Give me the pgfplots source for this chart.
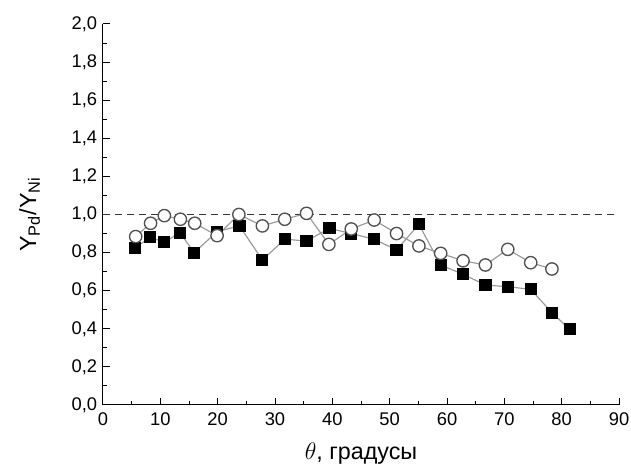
\documentclass[border=0pt]{standalone}
\usepackage{pgfplots}
\pgfplotsset{compat=1.18}
\usepackage{fontspec}
\setmainfont{Liberation Sans}
\definecolor{lngray}{HTML}{9A9A9A}
\definecolor{edgegray}{HTML}{505050}
\definecolor{dashgray}{HTML}{383838}
\begin{document}
\begin{tikzpicture}
\begin{axis}[
  scale only axis,
  width=309.6pt, height=228.6pt,
  xmin=0, xmax=90, ymin=0, ymax=2,
  axis x line=bottom, axis y line=left,
  axis line style={-, black, line width=0.6pt},
  tick align=inside,
  xtick={0,10,...,90}, minor x tick num=1,
  ytick={0,0.2,...,2.01}, minor y tick num=1,
  major tick length=4pt, minor tick length=2.2pt,
  tick style={black, line width=0.6pt},
  /pgf/number format/assume math mode=true,
  ticklabel style={font=\fontsize{11}{13}\selectfont},
  yticklabel style={/pgf/number format/.cd, fixed, fixed zerofill, precision=1, use comma},
  xticklabel style={yshift=-1pt, inner xsep=0.8pt},
  xlabel={$\theta$, градусы},
  ylabel={Y\textsubscript{Pd}/Y\textsubscript{Ni}},
  every axis x label/.style={at={([yshift=-29pt]rel axis cs:0.5,0)}, anchor=center, font=\fontsize{14}{16}\selectfont},
  every axis y label/.style={at={([xshift=-44pt]rel axis cs:0,0.5)}, anchor=center, rotate=90, font=\fontsize{14}{16}\selectfont},
  clip=false,
]
\path (rel axis cs:0,0) ++(-61.8pt,-39pt) coordinate (bbA);
\path (rel axis cs:1,1) ++(7.2pt,14.4pt) coordinate (bbB);
\path (bbA) rectangle (bbB);
\addplot[dashgray, line width=1.1pt, dash pattern=on 4.2pt off 3pt] coordinates {(0,1) (90,1)};
\addplot[lngray, line width=0.7pt, mark=square*, mark size=3.3pt,
  mark options={fill=black, draw=black, solid}] coordinates {
 (5.6,0.826) (8.25,0.880) (10.7,0.854) (13.4,0.905) (15.9,0.800)
 (19.9,0.910) (23.8,0.940) (27.8,0.761) (31.7,0.870) (35.5,0.861)
 (39.5,0.927) (43.3,0.900) (47.3,0.870) (51.2,0.814) (55.1,0.948)
 (58.9,0.735) (62.8,0.686) (66.7,0.630) (70.6,0.621) (74.6,0.607)
 (78.3,0.485) (81.4,0.397)
};
\addplot[lngray, line width=0.7pt, mark=*, mark size=3.7pt,
  mark options={fill=white, draw=edgegray, line width=0.8pt, solid}] coordinates {
 (5.7,0.884) (8.3,0.954) (10.7,0.994) (13.5,0.975) (16.0,0.954)
 (19.9,0.889) (23.7,1.000) (27.8,0.940) (31.7,0.975) (35.5,1.006)
 (39.4,0.843) (43.3,0.924) (47.3,0.971) (51.2,0.900) (55.1,0.835)
 (58.9,0.796) (62.8,0.757) (66.7,0.735) (70.6,0.817) (74.6,0.747)
 (78.3,0.714)
};
\end{axis}
\end{tikzpicture}
\end{document}
